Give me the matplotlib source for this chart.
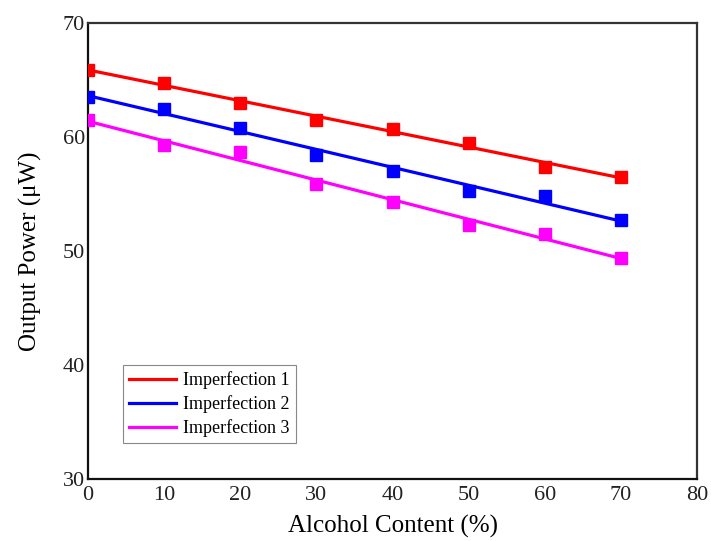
import numpy as np
import matplotlib
matplotlib.use('Agg')
import matplotlib.pyplot as plt

# alcohol content (%)
alcohol = [0, 10, 20, 30, 40, 50, 60, 70]

# output power (uW)
imperf_1 = [65.9, 64.7, 63.0, 61.5, 60.7, 59.5, 57.4, 56.5]
imperf_2 = [63.5, 62.5, 60.8, 58.4, 57.0, 55.3, 54.8, 52.7]
imperf_3 = [61.5, 59.3, 58.7, 55.9, 54.3, 52.3, 51.5, 49.4]

labels = ['Imperfection 1', 'Imperfection 2', 'Imperfection 3']
colors = ['#ff0000', '#0000ff', '#ff00ff']

plt.rcParams['font.family'] = ['Liberation Serif', 'DejaVu Serif']

fig = plt.figure(figsize=(7.11, 5.41), dpi=100)
ax = fig.add_axes([88/711, 1 - 479/541, (697-88)/711, (479-23)/541])

x = np.array(alcohol)
for yvals, lab, col in zip([imperf_1, imperf_2, imperf_3], labels, colors):
    # linear fit through the measured points
    k, b = np.polyfit(x, yvals, 1)
    ax.plot(x, k*x + b, color=col, linewidth=2.3, label=lab, zorder=2)
    ax.plot(x, yvals, linestyle='none', marker='s', markersize=8.5,
            color=col, zorder=3)

ax.set_xlim(0, 80)
ax.set_ylim(30, 70)
ax.set_xticks(range(0, 81, 10))
ax.set_yticks(range(30, 71, 10))
ax.tick_params(length=0, labelsize=16, colors='#222222')
ax.tick_params(axis='y', pad=2)
ax.tick_params(axis='x', pad=5)

for s in ['left', 'bottom']:
    ax.spines[s].set_linewidth(1.6)
    ax.spines[s].set_color('#111111')
for s in ['top', 'right']:
    ax.spines[s].set_linewidth(1.6)
    ax.spines[s].set_color('#333333')

ax.set_xlabel('Alcohol Content (%)', fontsize=18, labelpad=7)
ax.set_ylabel('Output Power (\u03bcW)', fontsize=18, labelpad=15)

leg = ax.legend(loc='lower left', bbox_to_anchor=(0.057, 0.078),
                fontsize=13, frameon=True, fancybox=False,
                edgecolor='#888888', framealpha=1,
                handlelength=2.6, handletextpad=0.4,
                labelspacing=0.33, borderpad=0.35, borderaxespad=0)
leg.get_frame().set_linewidth(0.8)

fig.savefig('out.png', dpi=100)
